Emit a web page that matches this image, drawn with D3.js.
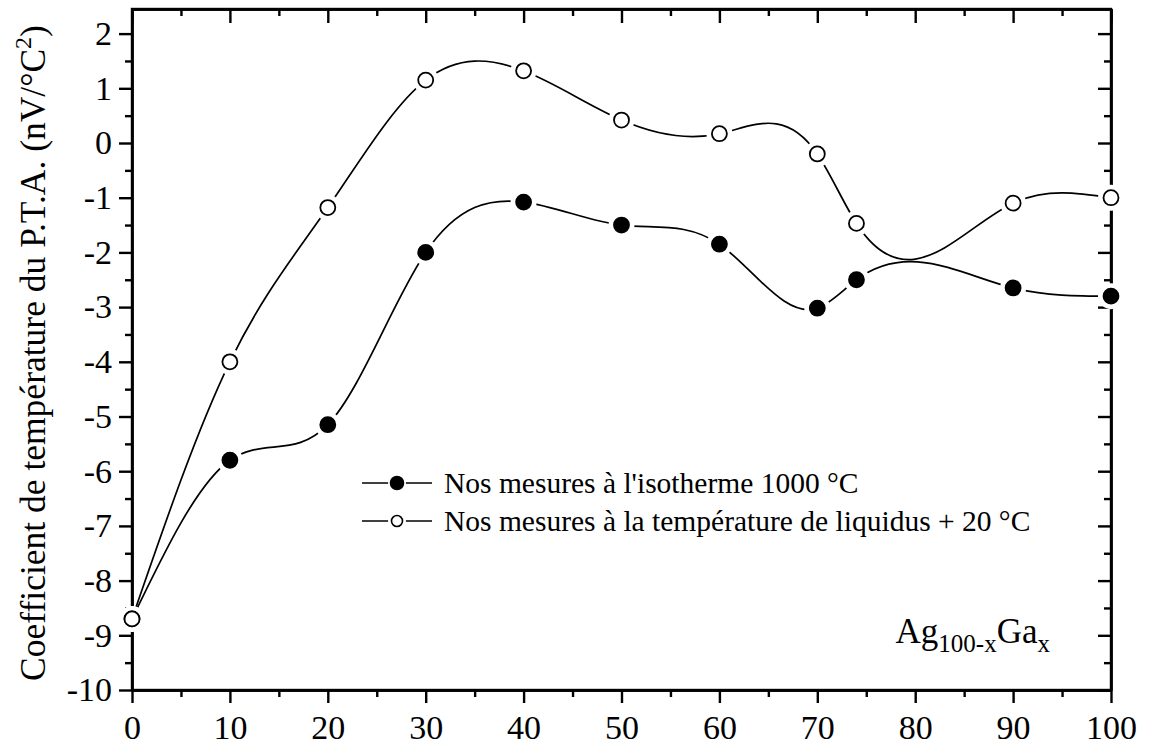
<!DOCTYPE html>
<html>
<head>
<meta charset="utf-8">
<script src="https://cdn.jsdelivr.net/npm/d3@7"></script>
<style>
  html, body { margin: 0; padding: 0; background: #fff; }
  svg { display: block; }
  svg text { font-family: "Liberation Serif", "Tinos", "Times New Roman", "DejaVu Serif", serif !important; }
</style>
</head>
<body>
<svg id="chart" width="1153" height="746"></svg>
<script>
// Composition x (at.% Ga) of the Ag(100-x)Ga(x) alloys
const compositions = [0, 10, 20, 30, 40, 50, 60, 70, 74, 90, 100];
// Temperature coefficient of the TEP at the 1000 °C isotherm
const isothermValues = [-8.7, -5.8, -5.15, -2.0, -1.08, -1.5, -1.85, -3.02, -2.5, -2.65, -2.8];
// Temperature coefficient at liquidus temperature + 20 °C
const liquidusValues = [-8.7, -4.0, -1.18, 1.15, 1.32, 0.42, 0.17, -0.2, -1.47, -1.1, -1.0];

const xTicks = [0, 10, 20, 30, 40, 50, 60, 70, 80, 90, 100];
const xMinorTicks = [5, 15, 25, 35, 45, 55, 65, 75, 85, 95];
const yTicks = [-10, -9, -8, -7, -6, -5, -4, -3, -2, -1, 0, 1, 2];
const yMinorTicks = [-9.5, -8.5, -7.5, -6.5, -5.5, -4.5, -3.5, -2.5, -1.5, -0.5, 0.5, 1.5];

const legendLabels = [
  "Nos mesures à l'isotherme 1000 °C",
  "Nos mesures à la température de liquidus + 20 °C"
];

const svg = d3.select("#chart");
const plotLeft = 132, plotRight = 1111, plotTop = 9, plotBottom = 690;

const x = d3.scaleLinear().domain([0, 100]).range([plotLeft, plotRight]);
const y = d3.scaleLinear().domain([-10, 2.45]).range([plotBottom, plotTop]);

const fmt = d => String(d);

function styleAxis(g) {
  g.attr("font-family", null);
  g.selectAll("path.domain").attr("stroke", "#000").attr("stroke-width", 2.4);
  g.selectAll(".tick line").attr("stroke", "#000").attr("stroke-width", 2.4);
  g.selectAll(".tick text")
    .attr("fill", "#000")
    .attr("font-size", 34);
}

// Natural cubic spline of y as a function of x, emitted as exact Bézier segments
function curveSplineX(context) {
  let xs, ys;
  return {
    areaStart() {}, areaEnd() {},
    lineStart() { xs = []; ys = []; },
    point(px, py) { xs.push(+px); ys.push(+py); },
    lineEnd() {
      const n = xs.length;
      if (!n) return;
      context.moveTo(xs[0], ys[0]);
      if (n < 3) { if (n === 2) context.lineTo(xs[1], ys[1]); return; }
      const h = d3.range(n - 1).map(i => xs[i + 1] - xs[i]);
      const M = new Array(n).fill(0);
      // Thomas algorithm for interior second derivatives
      const a = [], b = [], c = [], r = [];
      for (let i = 1; i < n - 1; i++) {
        a.push(h[i - 1]);
        b.push(2 * (h[i - 1] + h[i]));
        c.push(h[i]);
        r.push(6 * ((ys[i + 1] - ys[i]) / h[i] - (ys[i] - ys[i - 1]) / h[i - 1]));
      }
      const m = b.length;
      for (let i = 1; i < m; i++) {
        const w = a[i] / b[i - 1];
        b[i] -= w * c[i - 1];
        r[i] -= w * r[i - 1];
      }
      const sol = new Array(m);
      sol[m - 1] = r[m - 1] / b[m - 1];
      for (let i = m - 2; i >= 0; i--) sol[i] = (r[i] - c[i] * sol[i + 1]) / b[i];
      for (let i = 0; i < m; i++) M[i + 1] = sol[i];
      for (let i = 0; i < n - 1; i++) {
        const hi = h[i];
        const d = (ys[i + 1] - ys[i]) / hi;
        const s0 = d - hi * (2 * M[i] + M[i + 1]) / 6;
        const s1 = d + hi * (M[i] + 2 * M[i + 1]) / 6;
        context.bezierCurveTo(
          xs[i] + hi / 3, ys[i] + s0 * hi / 3,
          xs[i + 1] - hi / 3, ys[i + 1] - s1 * hi / 3,
          xs[i + 1], ys[i + 1]
        );
      }
    }
  };
}

// Bottom axis: labelled major ticks and minor ticks pointing down
svg.append("g").attr("transform", `translate(0,${plotBottom})`)
  .call(d3.axisBottom(x).tickValues(xTicks).tickFormat(fmt).tickSize(13).tickSizeOuter(0).tickPadding(12))
  .call(styleAxis);
svg.append("g").attr("transform", `translate(0,${plotBottom})`)
  .call(d3.axisBottom(x).tickValues(xMinorTicks).tickFormat("").tickSize(7).tickSizeOuter(0))
  .call(styleAxis);

// Top axis: ticks pointing into the plot
svg.append("g").attr("transform", `translate(0,${plotTop})`)
  .call(d3.axisBottom(x).tickValues(xTicks).tickFormat("").tickSize(14).tickSizeOuter(0))
  .call(styleAxis);
svg.append("g").attr("transform", `translate(0,${plotTop})`)
  .call(d3.axisBottom(x).tickValues(xMinorTicks).tickFormat("").tickSize(7).tickSizeOuter(0))
  .call(styleAxis);

// Left axis: labelled major ticks and minor ticks pointing left
svg.append("g").attr("transform", `translate(${plotLeft},0)`)
  .call(d3.axisLeft(y).tickValues(yTicks).tickFormat(fmt).tickSize(13).tickSizeOuter(0).tickPadding(7))
  .call(styleAxis);
svg.append("g").attr("transform", `translate(${plotLeft},0)`)
  .call(d3.axisLeft(y).tickValues(yMinorTicks).tickFormat("").tickSize(7).tickSizeOuter(0))
  .call(styleAxis);

// Right axis: ticks pointing into the plot
svg.append("g").attr("transform", `translate(${plotRight},0)`)
  .call(d3.axisLeft(y).tickValues(yTicks).tickFormat("").tickSize(13).tickSizeOuter(0))
  .call(styleAxis);
svg.append("g").attr("transform", `translate(${plotRight},0)`)
  .call(d3.axisLeft(y).tickValues(yMinorTicks).tickFormat("").tickSize(7).tickSizeOuter(0))
  .call(styleAxis);

// Frame edges so the corners close
svg.append("rect")
  .attr("x", plotLeft).attr("y", plotTop)
  .attr("width", plotRight - plotLeft).attr("height", plotBottom - plotTop)
  .attr("fill", "none").attr("stroke", "#000").attr("stroke-width", 2.4);

// Y axis title
const yTitle = svg.append("text")
  .attr("transform", `translate(45,353) rotate(-90)`)
  .attr("text-anchor", "middle")
  .attr("font-size", 35.5)
  .attr("fill", "#000");
yTitle.append("tspan").text("Coefficient de température du P.T.A. (nV/°C");
yTitle.append("tspan").attr("dy", -14).attr("font-size", 24).text("2");
yTitle.append("tspan").attr("dy", 14).text(")");

// Series curves
const series = [
  { values: isothermValues, filled: true },
  { values: liquidusValues, filled: false }
];
const line = d3.line()
  .x((d, i) => x(compositions[i]))
  .y(d => y(d))
  .curve(curveSplineX);

const plot = svg.append("g");
series.forEach(s => {
  plot.append("path")
    .datum(s.values)
    .attr("d", line)
    .attr("fill", "none")
    .attr("stroke", "#000")
    .attr("stroke-width", 1.7);
});

// White clearance around each symbol
series.forEach(s => {
  plot.selectAll(null).data(s.values).join("circle")
    .attr("cx", (d, i) => x(compositions[i]))
    .attr("cy", d => y(d))
    .attr("r", 13)
    .attr("fill", "#fff");
});

// Symbols
series.forEach(s => {
  plot.selectAll(null).data(s.values).join("circle")
    .attr("cx", (d, i) => x(compositions[i]))
    .attr("cy", d => y(d))
    .attr("r", 7.5)
    .attr("fill", s.filled ? "#000" : "#fff")
    .attr("stroke", "#000")
    .attr("stroke-width", 1.8);
});

// Legend
const legendX = 362, legendY = 483, legendGap = 38;
legendLabels.forEach((label, i) => {
  const g = svg.append("g").attr("transform", `translate(${legendX},${legendY + i * legendGap})`);
  g.append("line").attr("x1", 0).attr("x2", 70).attr("y1", 0).attr("y2", 0)
    .attr("stroke", "#000").attr("stroke-width", 1.6);
  g.append("circle").attr("cx", 35).attr("cy", 0).attr("r", 9).attr("fill", "#fff");
  g.append("circle").attr("cx", 35).attr("cy", 0).attr("r", i === 0 ? 6.5 : 5.5)
    .attr("fill", i === 0 ? "#000" : "#fff")
    .attr("stroke", "#000").attr("stroke-width", 1.6);
  g.append("text").attr("x", 82).attr("y", 0).attr("dy", "0.33em")
    .attr("font-size", 29.5).attr("fill", "#000").text(label);
});

// Alloy label
const alloy = svg.append("text")
  .attr("x", 1050).attr("y", 643)
  .attr("text-anchor", "end")
  .attr("font-size", 35)
  .attr("fill", "#000");
alloy.append("tspan").text("Ag");
alloy.append("tspan").attr("dy", 9).attr("font-size", 25).text("100-x");
alloy.append("tspan").attr("dy", -9).text("Ga");
alloy.append("tspan").attr("dy", 9).attr("font-size", 25).text("x");
</script>
</body>
</html>
